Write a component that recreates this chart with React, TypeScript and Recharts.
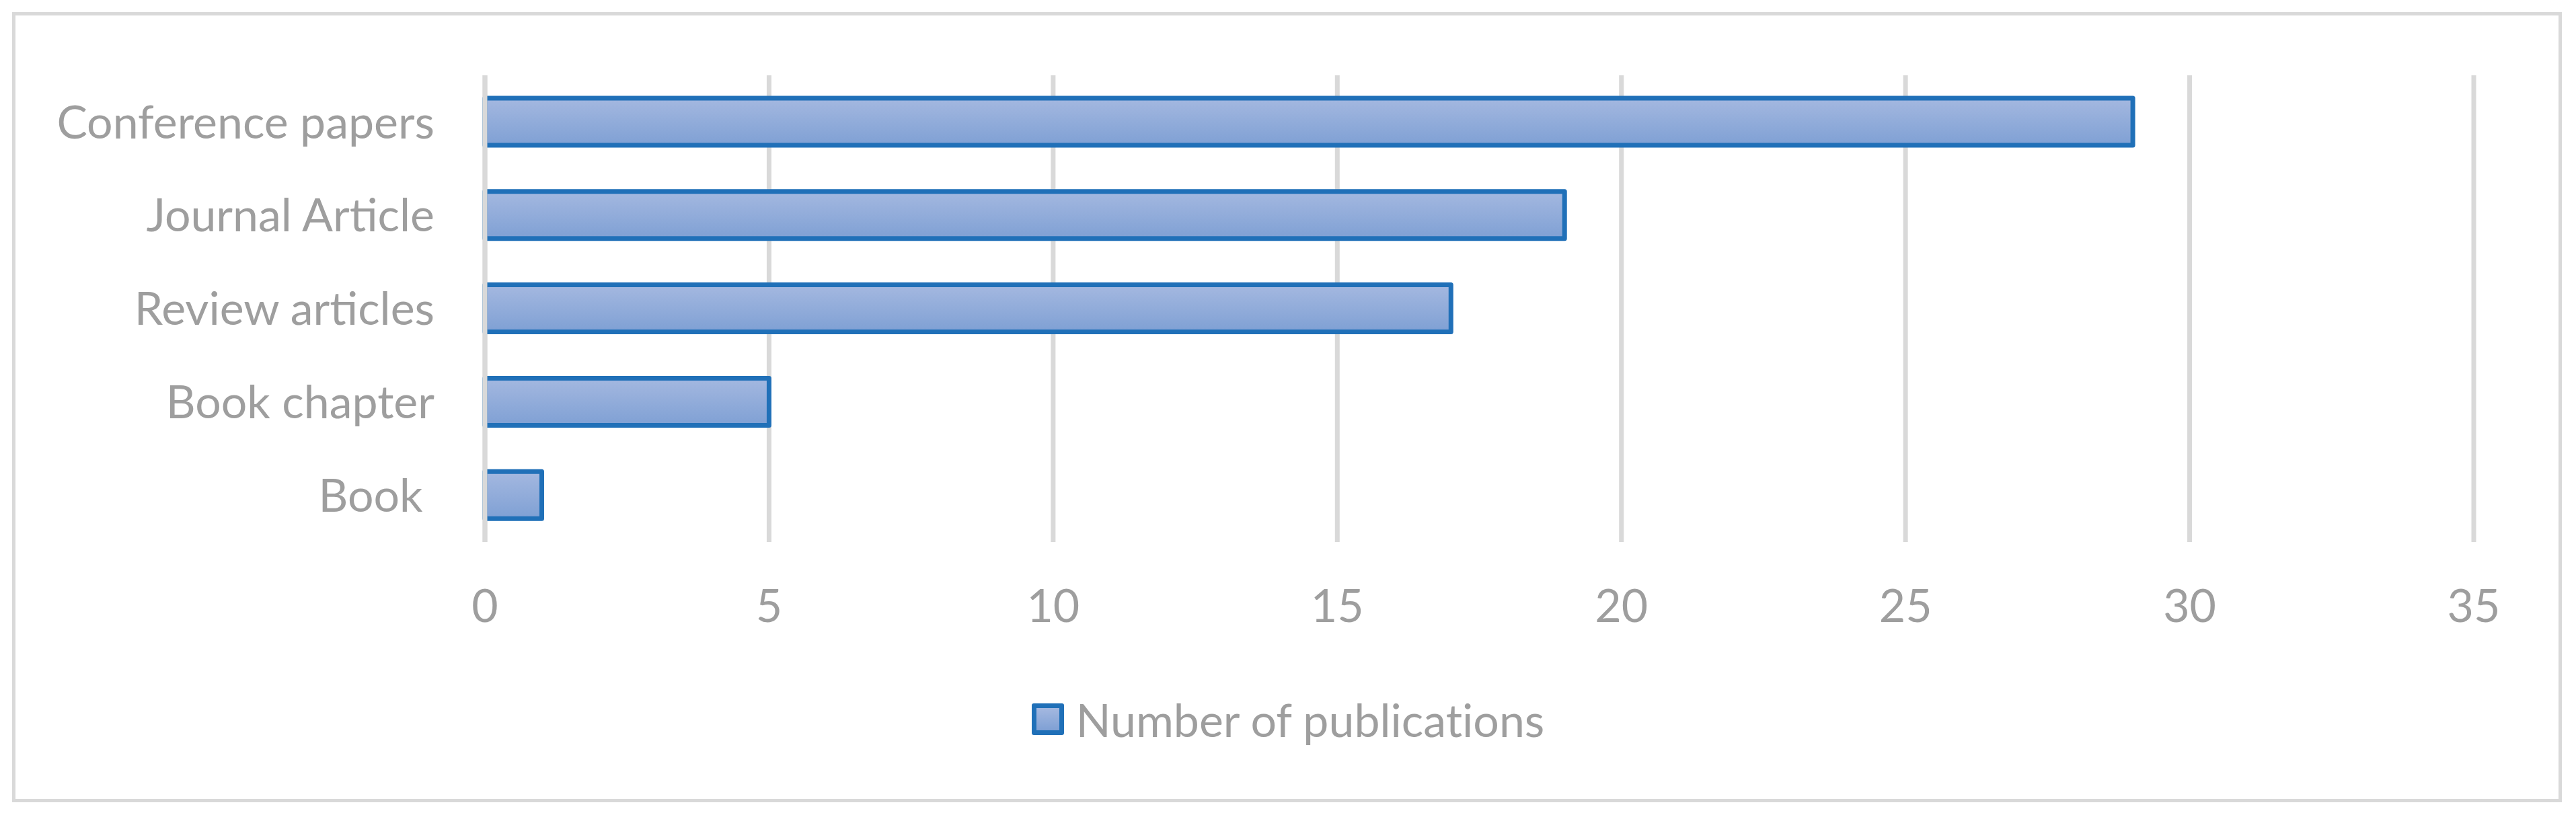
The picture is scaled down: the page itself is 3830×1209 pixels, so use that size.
import { BarChart, Bar, XAxis, YAxis, CartesianGrid, Legend, ReferenceLine } from "recharts";

const categories = ["Conference papers", "Journal Article", "Review articles", "Book chapter", "Book\u00a0"];
const publications = [29, 19, 17, 5, 1];
const xTicks = [0, 5, 10, 15, 20, 25, 30, 35];
const seriesName = "Number of publications";

const data = categories.map((name, i) => ({ name, value: publications[i] }));

const FONT = "Lato, 'Open Sans', sans-serif";
const TEXT = "#9e9e9e";
const GRID = "#d9d9d9";
const STROKE = "#2070b8";
const tickStyle = { fill: TEXT, fontSize: 68, fontFamily: FONT, fontVariantLigatures: "none" };

const LegendBox = () => (
  <div
    style={{
      height: 80,
      width: "100%",
      display: "flex",
      justifyContent: "center",
      alignItems: "center",
      fontFamily: FONT,
      fontSize: 68,
      fontVariantLigatures: "none",
      color: TEXT,
    }}
  >
    <div
      style={{
        width: 48,
        height: 47,
        boxSizing: "border-box",
        border: `7px solid ${STROKE}`,
        borderRadius: 3,
        background: "linear-gradient(#a4b8e0, #7fa0d4)",
        marginRight: 18,
      }}
    />
    <span>{seriesName}</span>
  </div>
);

export default function App() {
  return (
    <div style={{ position: "relative", width: 3830, height: 1209, background: "#fff" }}>
      <style>{"body{margin:0}"}</style>
      <div
        style={{
          position: "absolute",
          left: 18,
          top: 18,
          width: 3791,
          height: 1175,
          boxSizing: "border-box",
          border: `5px solid ${GRID}`,
        }}
      />
      <div style={{ position: "absolute", left: 0, top: 0 }}>
        <BarChart
          width={3830}
          height={1209}
          data={data}
          layout="vertical"
          margin={{ top: 112, right: 152, bottom: 100, left: 0 }}
        >
          <defs>
            <linearGradient id="barFill" x1="0" y1="0" x2="0" y2="1">
              <stop offset="0%" stopColor="#a4b8e0" />
              <stop offset="100%" stopColor="#7fa0d4" />
            </linearGradient>
          </defs>
          <CartesianGrid horizontal={false} stroke={GRID} strokeWidth={7} />
          <XAxis
            type="number"
            domain={[0, 35]}
            ticks={xTicks}
            axisLine={false}
            tickLine={false}
            tickSize={0}
            tickMargin={71}
            height={223}
            tick={tickStyle}
          />
          <YAxis
            type="category"
            dataKey="name"
            width={721}
            axisLine={false}
            tickLine={false}
            tickSize={0}
            tickMargin={75}
            tick={tickStyle}
          />
          <Bar
            dataKey="value"
            name={seriesName}
            fill="url(#barFill)"
            stroke={STROKE}
            strokeWidth={7}
            strokeLinejoin="round"
            barSize={70}
            isAnimationActive={false}
          />
          <ReferenceLine x={0} stroke={GRID} strokeWidth={7} />
          <Legend
            verticalAlign="bottom"
            width={3830}
            wrapperStyle={{ left: 0 }}
            content={() => <LegendBox />}
          />
        </BarChart>
      </div>
    </div>
  );
}
